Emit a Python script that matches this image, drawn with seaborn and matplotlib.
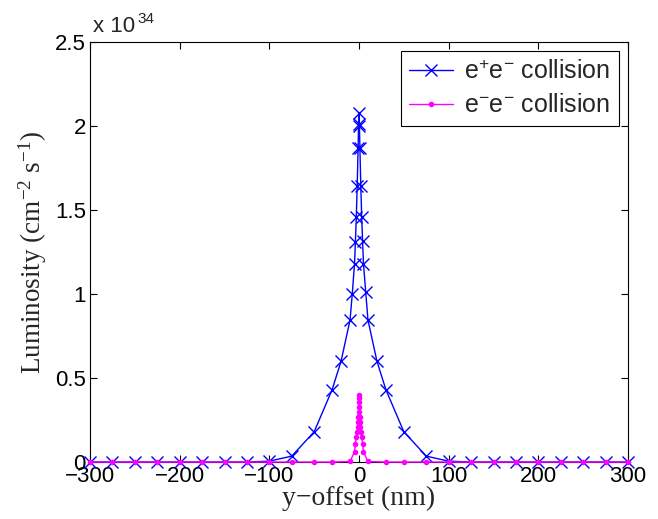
import numpy as np
import pandas as pd
import matplotlib
matplotlib.use("Agg")
import matplotlib.pyplot as plt
import seaborn as sns

# e+e- collision (luminosity in units of 1e34)
ep_x = [-300, -275, -250, -225, -200, -175, -150, -125, -100, -75, -50, -30, -20, -10,
        -7.5, -5, -4, -3, -2, -1, -0.5, 0, 0.5, 1, 2, 3, 4, 5, 7.5, 10, 20, 30, 50, 75,
        100, 125, 150, 175, 200, 225, 250, 275, 300]
ep_y = [0, 0, 0, 0, 0, 0, 0, 0, 0.005, 0.035, 0.18, 0.43, 0.6, 0.845,
        1.0, 1.18, 1.31, 1.46, 1.645, 1.87, 2.01, 2.075, 2.0, 1.87, 1.645, 1.46, 1.315, 1.18, 1.01, 0.845,
        0.6, 0.43, 0.18, 0.035, 0.005, 0, 0, 0, 0, 0, 0, 0, 0]

# e-e- collision
ee_x = [-300, -275, -250, -225, -200, -175, -150, -125, -100, -75, -50, -30, -10,
        -5, -4, -3, -2, -1.5, -1, -0.75, -0.5, -0.25, 0, 0.25, 0.5, 0.75, 1, 1.5, 2, 3, 4, 5,
        10, 30, 50, 75, 100, 125, 150, 175, 200, 225, 250, 275, 300]
ee_y = [0, 0, 0, 0, 0, 0, 0, 0, 0, 0, 0, 0, 0.003,
        0.06, 0.11, 0.15, 0.18, 0.21, 0.24, 0.27, 0.30, 0.36, 0.40, 0.38, 0.33, 0.27, 0.24, 0.21, 0.18, 0.15, 0.11, 0.06,
        0.003, 0, 0, 0, 0, 0, 0, 0, 0, 0, 0, 0, 0]

x_ticks = [-300, -200, -100, 0, 100, 200, 300]
y_ticks = [0, 0.5, 1, 1.5, 2, 2.5]
y_tick_labels = ["0", "0.5", "1", "1.5", "2", "2.5"]

sns.set_style("ticks")
plt.rcParams['font.family'] = ['Liberation Sans', 'DejaVu Sans']
plt.rcParams['mathtext.fontset'] = 'custom'
plt.rcParams['mathtext.rm'] = 'Liberation Serif'
plt.rcParams['mathtext.it'] = 'Liberation Serif:italic'
plt.rcParams['mathtext.sf'] = 'Liberation Sans'

fig = plt.figure(figsize=(6.58, 5.19), dpi=100)
ax = fig.add_axes([90/658, 1 - 462/519, 538/658, 420/519])

df1 = pd.DataFrame({"x": ep_x, "y": ep_y})
df2 = pd.DataFrame({"x": ee_x, "y": ee_y})

blue = (0, 0, 1)
mag = (1, 0, 1)
sns.lineplot(data=df1, x="x", y="y", ax=ax, color=blue, marker="x",
             markersize=8, markeredgewidth=1.0, markeredgecolor=blue, linewidth=1.0,
             estimator=None, sort=False, zorder=3, clip_on=False,
             label=r"e$^{\mathsf{+}}$e$^{\mathsf{-}}$ collision")
sns.lineplot(data=df2, x="x", y="y", ax=ax, color=mag, marker="o",
             markersize=4, markeredgewidth=0, markeredgecolor=mag, markerfacecolor=mag,
             linewidth=1.0, estimator=None, sort=False, zorder=3.1, clip_on=False,
             label=r"e$^{\mathsf{-}}$e$^{\mathsf{-}}$ collision")

ax.set_xlim(-300, 300)
ax.set_ylim(0, 2.5)
ax.set_xticks(x_ticks)
ax.set_yticks(y_ticks)
ax.set_yticklabels(y_tick_labels)
ax.tick_params(direction="in", top=True, right=True, labelsize=16, length=5,
               width=0.8, pad=3, colors="black")
for s in ax.spines.values():
    s.set_visible(True)
    s.set_linewidth(0.8)
    s.set_color("black")

ax.set_xlabel("y\u2212offset (nm)", fontsize=20, family="Liberation Serif", labelpad=-1)
ax.set_ylabel(r"Luminosity (cm$^{-2}$ s$^{-1}$)", fontsize=19.5, family="Liberation Serif", labelpad=4)

ax.text(0.006, 1.012, "x 10", transform=ax.transAxes, fontsize=16, ha="left", va="bottom")
ax.text(0.089, 1.038, "34", transform=ax.transAxes, fontsize=11, ha="left", va="bottom")

leg = ax.legend(loc="upper right", fontsize=18, frameon=True, fancybox=False,
                edgecolor="black", framealpha=1, borderpad=0.35, handlelength=1.75,
                handletextpad=0.45, labelspacing=0.4, borderaxespad=0.35)
leg.get_frame().set_linewidth(0.8)
leg.set_zorder(5)

fig.savefig("out.png", dpi=100)
